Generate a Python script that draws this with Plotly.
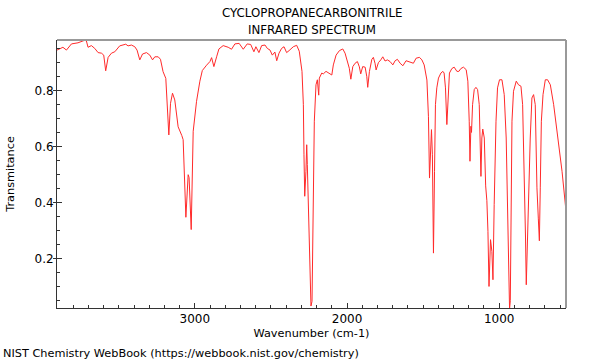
import plotly.graph_objects as go

wavenumber = [3906, 3888, 3867, 3844, 3811, 3768, 3724, 3713, 3702, 3680, 3658, 3636, 3614, 3599, 3586, 3570,
              3548, 3526, 3494, 3454, 3439, 3417, 3395, 3380, 3362, 3344, 3318, 3296, 3278, 3263, 3241, 3226,
              3209, 3191, 3176, 3171, 3160, 3147, 3132, 3110, 3086, 3077, 3059, 3044, 3038, 3024, 3011, 2989,
              2967, 2951, 2923, 2901, 2890, 2875, 2857, 2842, 2814, 2781, 2759, 2737, 2709, 2682, 2656, 2633,
              2612, 2599, 2579, 2561, 2539, 2524, 2506, 2491, 2474, 2462, 2447, 2430, 2414, 2397, 2381, 2353,
              2331, 2314, 2296, 2287, 2283, 2278, 2270, 2265, 2261, 2250, 2243, 2237, 2230, 2226, 2222, 2215,
              2204, 2195, 2186, 2182, 2166, 2156, 2138, 2116, 2100, 2090, 2072, 2050, 2028, 2013, 1998, 1985,
              1975, 1962, 1947, 1932, 1919, 1910, 1897, 1881, 1870, 1864, 1853, 1837, 1827, 1816, 1809, 1794,
              1778, 1765, 1750, 1735, 1717, 1699, 1684, 1669, 1651, 1633, 1612, 1590, 1564, 1546, 1524, 1508,
              1493, 1475, 1465, 1458, 1449, 1445, 1439, 1432, 1425, 1419, 1410, 1399, 1383, 1370, 1362, 1353,
              1344, 1335, 1327, 1311, 1296, 1278, 1265, 1252, 1235, 1217, 1206, 1197, 1192, 1186, 1182, 1175,
              1164, 1153, 1142, 1131, 1125, 1120, 1114, 1108, 1098, 1094, 1089, 1081, 1074, 1067, 1057, 1048,
              1041, 1033, 1021, 1011, 998, 982, 967, 954, 945, 936, 932, 927, 923, 916, 906, 888,
              873, 857, 846, 835, 827, 822, 813, 807, 796, 785, 774, 763, 752, 743, 736, 730,
              723, 712, 697, 682, 664, 642, 616, 587, 561]

transmittance = [0.945, 0.951, 0.955, 0.945, 0.967, 0.971, 0.980, 0.978, 0.955, 0.961, 0.951, 0.936, 0.934, 0.927, 0.871, 0.919,
                 0.934, 0.939, 0.960, 0.966, 0.960, 0.963, 0.957, 0.945, 0.910, 0.931, 0.936, 0.927, 0.910, 0.921, 0.921, 0.912,
                 0.868, 0.844, 0.707, 0.642, 0.755, 0.791, 0.767, 0.671, 0.640, 0.625, 0.348, 0.500, 0.490, 0.304, 0.655, 0.762,
                 0.834, 0.872, 0.891, 0.904, 0.918, 0.886, 0.921, 0.949, 0.961, 0.955, 0.948, 0.967, 0.969, 0.948, 0.967, 0.965,
                 0.939, 0.957, 0.936, 0.961, 0.963, 0.951, 0.945, 0.927, 0.938, 0.907, 0.934, 0.951, 0.957, 0.936, 0.943, 0.957,
                 0.962, 0.941, 0.869, 0.750, 0.571, 0.423, 0.512, 0.607, 0.536, 0.274, 0.095, 0.031, 0.048, 0.214, 0.512, 0.691,
                 0.821, 0.839, 0.784, 0.845, 0.863, 0.860, 0.869, 0.863, 0.856, 0.892, 0.927, 0.943, 0.949, 0.934, 0.904, 0.880,
                 0.841, 0.886, 0.898, 0.904, 0.885, 0.860, 0.886, 0.884, 0.850, 0.812, 0.868, 0.912, 0.919, 0.898, 0.874, 0.900,
                 0.910, 0.921, 0.906, 0.910, 0.904, 0.892, 0.907, 0.912, 0.898, 0.889, 0.907, 0.904, 0.898, 0.916, 0.919, 0.910,
                 0.892, 0.838, 0.707, 0.488, 0.631, 0.661, 0.571, 0.220, 0.512, 0.750, 0.810, 0.845, 0.863, 0.869, 0.863, 0.810,
                 0.679, 0.810, 0.863, 0.879, 0.884, 0.869, 0.869, 0.879, 0.884, 0.875, 0.834, 0.691, 0.548, 0.673, 0.651, 0.750,
                 0.804, 0.812, 0.804, 0.750, 0.595, 0.494, 0.631, 0.663, 0.631, 0.550, 0.460, 0.407, 0.298, 0.101, 0.268, 0.226,
                 0.125, 0.393, 0.691, 0.810, 0.839, 0.839, 0.786, 0.631, 0.393, 0.095, 0.020, 0.050, 0.393, 0.691, 0.798, 0.834,
                 0.821, 0.816, 0.750, 0.512, 0.274, 0.107, 0.298, 0.393, 0.631, 0.774, 0.786, 0.750, 0.453, 0.345, 0.264, 0.453,
                 0.691, 0.786, 0.839, 0.839, 0.821, 0.750, 0.631, 0.512, 0.370]

title_lines = ["CYCLOPROPANECARBONITRILE", "INFRARED SPECTRUM"]
x_label = "Wavenumber (cm-1)"
y_label = "Transmitance"
footer = "NIST Chemistry WebBook (https://webbook.nist.gov/chemistry)"
x_range = [3906, 561]
y_range = [0.024, 0.981]

FONT = "DejaVu Sans"
FS = 11.3

fig = go.Figure()
fig.add_trace(go.Scatter(x=wavenumber, y=transmittance, mode="lines",
                         line=dict(color="#ff2a2a", width=1), hoverinfo="skip", showlegend=False))
# helper trace for outside part of y major ticks
fig.add_trace(go.Scatter(x=[wavenumber[0]], y=[transmittance[0]], yaxis="y2", mode="lines",
                         line=dict(width=0), showlegend=False, hoverinfo="skip"))

fig.update_layout(
    width=600, height=360,
    margin=dict(l=57, r=34, t=40, b=52),
    paper_bgcolor="white", plot_bgcolor="white",
    font=dict(family=FONT, size=FS, color="black"),
    xaxis=dict(range=x_range, showgrid=False, zeroline=False,
               showline=True, linecolor="#333", linewidth=1,
               ticks="inside", ticklen=5, tickcolor="#333", tickwidth=1,
               tickvals=[3000, 2000, 1000], ticktext=["3000", "2000", "1000"],
               tickfont=dict(size=12),
               minor=dict(ticks="inside", ticklen=3, tickcolor="#333", dtick=100, tick0=0, showgrid=False),
               title=dict(text=x_label, standoff=3, font=dict(size=FS))),
    yaxis=dict(range=y_range, showgrid=False, zeroline=False,
               showline=True, linecolor="#333", linewidth=1, automargin=False,
               ticks="inside", ticklen=5, tickcolor="#333", tickwidth=1,
               tickvals=[0.2, 0.4, 0.6, 0.8], ticktext=["0.2", "0.4", "0.6", "0.8"],
               tickfont=dict(size=12),
               minor=dict(ticks="inside", ticklen=3, tickcolor="#333", dtick=0.05, tick0=0, showgrid=False),
               title=dict(text=y_label, standoff=17, font=dict(size=FS))),
    yaxis2=dict(range=y_range, overlaying="y", side="left", showgrid=False, zeroline=False,
                showline=False, ticks="outside", ticklen=3, tickcolor="#333",
                tickvals=[0.2, 0.4, 0.6, 0.8], showticklabels=False),
    shapes=[
        dict(type="line", xref="paper", yref="paper", x0=0, x1=1, y0=1, y1=1,
             line=dict(color="#999", width=2)),
        dict(type="line", xref="paper", yref="paper", x0=1, x1=1, y0=0, y1=1,
             line=dict(color="#999", width=2)),
    ],
    annotations=[
        dict(text=title_lines[0], xref="paper", yref="paper", x=0.5, y=1, yshift=27,
             showarrow=False, xanchor="center", yanchor="middle", font=dict(size=11.8)),
        dict(text=title_lines[1], xref="paper", yref="paper", x=0.5, y=1, yshift=10,
             showarrow=False, xanchor="center", yanchor="middle", font=dict(size=11.8)),
        dict(text=footer, xref="paper", yref="paper", x=0, y=0, xshift=-56, yshift=-45,
             showarrow=False, xanchor="left", yanchor="middle", font=dict(size=FS)),
    ],
)

fig.write_html("out.html", config={"displayModeBar": False},
               post_script="document.body.style.margin='0';document.body.style.padding='0';")
